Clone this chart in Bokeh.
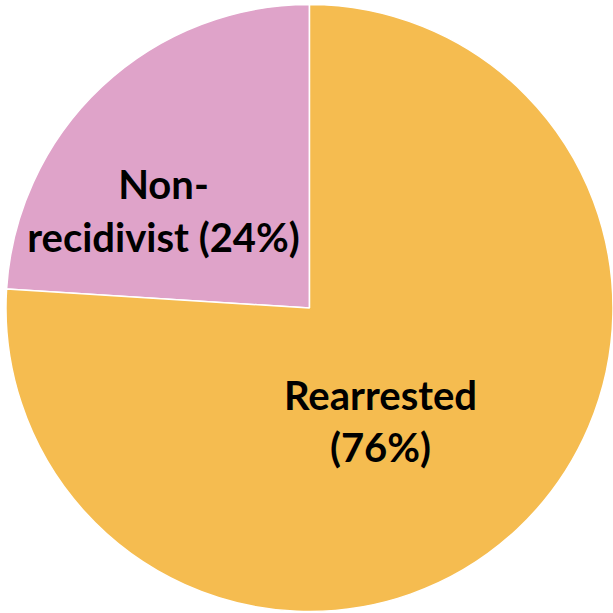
from bokeh.plotting import figure
from bokeh.models import ColumnDataSource, Range1d
from bokeh.core.properties import value
from bokeh.embed import file_html
from bokeh.resources import INLINE
import math

categories = ["Non-recidivist", "Rearrested"]
shares = [24, 76]
label_texts = ["Non-\nrecidivist (24%)", "Rearrested\n(76%)"]
colors = ["#DFA3C9", "#F5BC50"]

W = H = 613
p = figure(width=W, height=H, output_backend="svg", toolbar_location=None,
           x_range=Range1d(0, W), y_range=Range1d(0, H), min_border=0)
p.axis.visible = False
p.grid.visible = False
p.outline_line_color = None
p.background_fill_color = "white"

cx, cy, r = 309, 305.5, 303.5
total = sum(shares)
starts, ends = [], []
a = math.pi / 2
for s in shares:
    starts.append(a)
    a += s / total * 2 * math.pi
    ends.append(a)

src = ColumnDataSource(dict(cat=categories, start=starts, end=ends, color=colors))
p.wedge(x=cx, y=cy, radius=r, start_angle="start", end_angle="end",
        fill_color="color", line_color="white", line_width=1.5, source=src)

lx = [cx - 146, cx + 71]
ly = [cy + 97.5, cy - 113]
tsrc = ColumnDataSource(dict(x=lx, y=ly, t=label_texts))
p.text(x="x", y="y", text="t", source=tsrc, text_font=value("Lato"),
       text_font_style="bold", text_font_size="40px", text_align="center",
       text_baseline="middle", text_color="black", text_line_height=1.1)

open("out.html", "w").write(file_html(p, INLINE))
